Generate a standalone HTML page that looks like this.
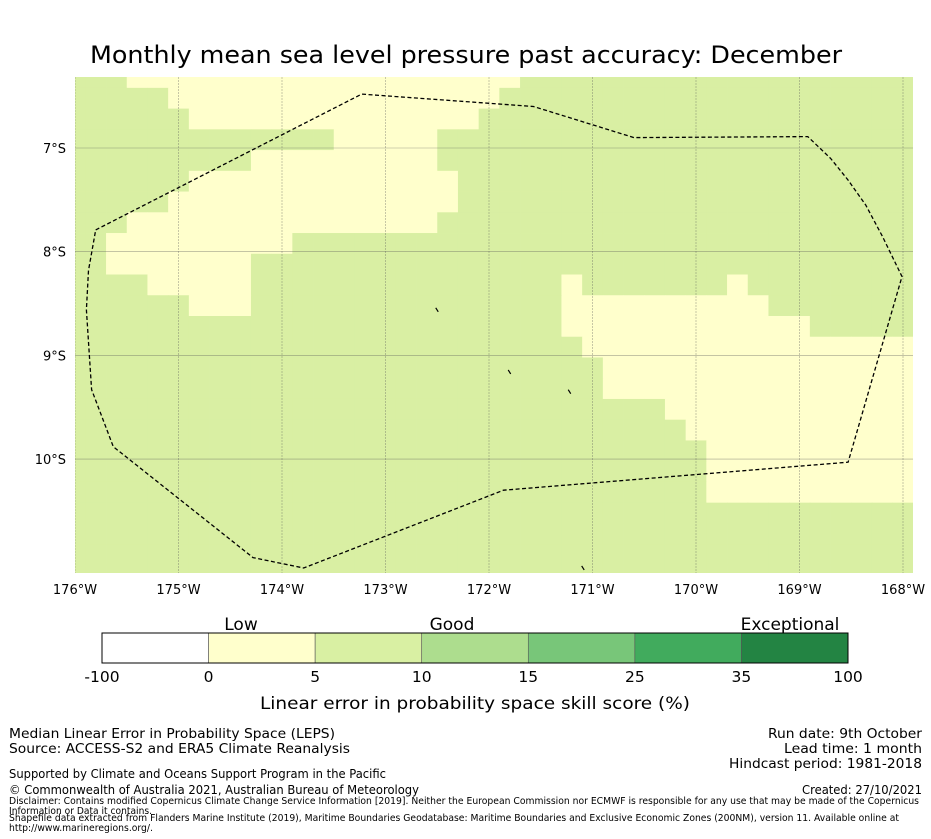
<!DOCTYPE html>
<html><head><meta charset="utf-8"><style>
html,body{margin:0;padding:0;background:#fff;}
svg{display:block;font-family:"DejaVu Sans","Liberation Sans",sans-serif;}
</style></head><body>
<svg id="fig" width="931" height="839" viewBox="0 0 931 839" xmlns="http://www.w3.org/2000/svg">
<text x="90" y="63" font-size="24" textLength="752" lengthAdjust="spacingAndGlyphs">Monthly mean sea level pressure past accuracy: December</text>
<g id="map"></g>
<g id="axes"></g>
<g id="cbar"></g>
<text x="475" y="709" font-size="17" text-anchor="middle" textLength="430" lengthAdjust="spacingAndGlyphs">Linear error in probability space skill score (%)</text>
<g font-size="13.5">
<text x="9" y="738" textLength="326" lengthAdjust="spacingAndGlyphs">Median Linear Error in Probability Space (LEPS)</text>
<text x="9" y="753" textLength="341" lengthAdjust="spacingAndGlyphs">Source: ACCESS-S2 and ERA5 Climate Reanalysis</text>
<text x="9" y="778" font-size="12.5" textLength="377" lengthAdjust="spacingAndGlyphs">Supported by Climate and Oceans Support Program in the Pacific</text>
<text x="9" y="794" font-size="12.5" textLength="410" lengthAdjust="spacingAndGlyphs">© Commonwealth of Australia 2021, Australian Bureau of Meteorology</text>
<text x="922" y="738" text-anchor="end" textLength="154" lengthAdjust="spacingAndGlyphs">Run date: 9th October</text>
<text x="922" y="753" text-anchor="end" textLength="138" lengthAdjust="spacingAndGlyphs">Lead time: 1 month</text>
<text x="922" y="768" text-anchor="end" textLength="193" lengthAdjust="spacingAndGlyphs">Hindcast period: 1981-2018</text>
<text x="922" y="794" font-size="12.5" text-anchor="end" textLength="120" lengthAdjust="spacingAndGlyphs">Created: 27/10/2021</text>
<text x="9" y="804" font-size="9.5" textLength="910" lengthAdjust="spacingAndGlyphs">Disclaimer: Contains modified Copernicus Climate Change Service Information [2019]. Neither the European Commission nor ECMWF is responsible for any use that may be made of the Copernicus</text>
<text x="9" y="814" font-size="9.5" textLength="143" lengthAdjust="spacingAndGlyphs">Information or Data it contains.</text>
<text x="9" y="821" font-size="9.5" textLength="890" lengthAdjust="spacingAndGlyphs">Shapefile data extracted from Flanders Marine Institute (2019), Maritime Boundaries Geodatabase: Maritime Boundaries and Exclusive Economic Zones (200NM), version 11. Available online at</text>
<text x="9" y="831" font-size="9.5" textLength="144" lengthAdjust="spacingAndGlyphs">http://www.marineregions.org/.</text>
</g>
</svg>
<script>
// grid: cell centers lon -176 + 0.2*i, lat -6.32 - 0.2*j
// each row: run lengths alternating category, starting with 'g' (5-10 skill), then 'y' (0-5 skill), ...
const gridRuns = [
[3,19,19],
[5,16,20],
[6,14,21],
[13,5,23],
[9,9,23],
[6,13,22],
[5,14,22],
[3,15,23],
[2,9,30],
[2,7,32],
[4,5,15,1,7,1,8],
[6,3,15,10,7],
[24,12,5],
[25,16],
[26,15],
[26,15],
[29,12],
[30,11],
[31,10],
[31,10],
[31,10],
[41],
[41],
[41],
[41]
];
const lonTicks = [-176,-175,-174,-173,-172,-171,-170,-169,-168];
const lonLabels = ["176°W","175°W","174°W","173°W","172°W","171°W","170°W","169°W","168°W"];
const latTicks = [-7,-8,-9,-10];
const latLabels = ["7°S","8°S","9°S","10°S"];
const eezLon = [-175.80,-173.23,-171.57,-170.60,-168.92,-168.70,-168.53,-168.36,-168.20,-168.01,-168.53,-171.86,-173.79,-174.28,-175.63,-175.84,-175.89,-175.87,-175.80];
const eezLat = [-7.79,-6.48,-6.60,-6.90,-6.89,-7.10,-7.31,-7.55,-7.85,-8.24,-10.03,-10.30,-11.05,-10.95,-9.88,-9.33,-8.56,-8.18,-7.79];
const islandLon = [-172.50,-171.80,-171.22,-171.09];
const islandLat = [-8.56,-9.16,-9.35,-11.05];
const cbBounds = ["-100","0","5","10","15","25","35","100"];
const cbColors = ["#ffffff","#ffffcc","#d9f0a3","#addd8e","#78c679","#41ab5d","#238443"];
const cbCats = ["Low","Good","Exceptional"];

const NS="http://www.w3.org/2000/svg";
const X0=75,X1=913,Y0=77,Y1=573;
const lonToX = lon => 75 + (lon+176)*103.5;
const latToY = lat => 148 - (lat+7)*103.7;
function mk(tag, attrs, parent){const e=document.createElementNS(NS,tag);for(const k in attrs)e.setAttribute(k,attrs[k]);parent.appendChild(e);return e;}
const map=document.getElementById('map');
const defs=mk('defs',{},map);
const cp=mk('clipPath',{id:'mc'},defs);
mk('rect',{x:X0,y:Y0,width:X1-X0,height:Y1-Y0},cp);
const cells=mk('g',{'clip-path':'url(#mc)'},map);
const cats=["#d9efa3","#ffffcc"];
gridRuns.forEach((runs,j)=>{
  let i=0;
  runs.forEach((n,k)=>{
    for(let m=0;m<n;m++,i++){
      const lon=-176+0.2*i, lat=-6.32-0.2*j;
      const x=lonToX(lon-0.1), y=latToY(lat+0.1);
      const r=mk('rect',{x:x,y:y,width:lonToX(lon+0.1)-x+0.4,height:latToY(lat-0.1)-y+0.4,fill:cats[k%2]},cells);
      
      
    }
  });
});
const grid=mk('g',{'clip-path':'url(#mc)',stroke:'#555','stroke-width':'0.6','stroke-opacity':'0.55'},map);
lonTicks.forEach(l=>{const e=mk('line',{x1:lonToX(l),x2:lonToX(l),y1:Y0,y2:Y1,'stroke-dasharray':'2,1'},grid);
  });
latTicks.forEach(l=>{const e=mk('line',{x1:X0,x2:X1,y1:latToY(l),y2:latToY(l)},grid);
  });
const pts=eezLon.map((l,k)=>lonToX(l).toFixed(1)+','+latToY(eezLat[k]).toFixed(1)).join(' ');
const eez=mk('polyline',{points:pts,fill:'none',stroke:'#000','stroke-width':'1.3','stroke-dasharray':'4,2.5'},map);


islandLon.forEach((l,k)=>{const x=lonToX(l),y=latToY(islandLat[k]);
  const e=mk('line',{x1:x-1.5,y1:y-2,x2:x+1,y2:y+2,stroke:'#000','stroke-width':'1.2'},map);
  });
const ax=document.getElementById('axes');
lonTicks.forEach((l,k)=>{const t=mk('text',{x:lonToX(l),y:594,'font-size':'13','text-anchor':'middle'},ax);t.textContent=lonLabels[k];
  });
latTicks.forEach((l,k)=>{const t=mk('text',{x:66,y:latToY(l)+5,'font-size':'13','text-anchor':'end'},ax);t.textContent=latLabels[k];
  });
const cb=document.getElementById('cbar');
const CBX0=102,CBX1=848,CBY=633,CBH=30,w=(CBX1-CBX0)/cbColors.length;
cbColors.forEach((c,k)=>{const r=mk('rect',{x:CBX0+k*w,y:CBY,width:w,height:CBH,fill:c,stroke:'#555','stroke-width':'0.6'},cb);
  });
mk('rect',{x:CBX0,y:CBY,width:CBX1-CBX0,height:CBH,fill:'none',stroke:'#000','stroke-width':'1'},cb);
cbBounds.forEach((b,k)=>{const t=mk('text',{x:CBX0+k*w,y:682,'font-size':'15.5','text-anchor':'middle'},cb);t.textContent=b;
  });
const catX=[241,452,790];
cbCats.forEach((c,k)=>{const t=mk('text',{x:catX[k],y:630,'font-size':'17','text-anchor':'middle'},cb);t.textContent=c;
  });
</script>
</body></html>
